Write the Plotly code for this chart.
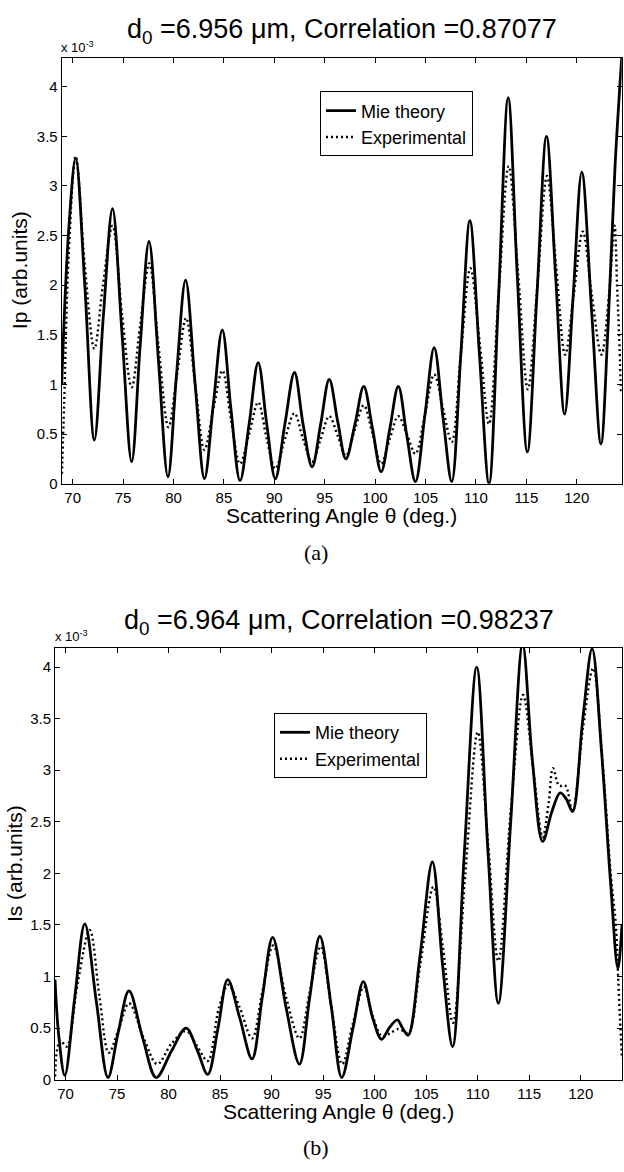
import plotly.graph_objects as go

W, H = 624, 1172


def px(x):
    return x / W


def py(y):
    return 1 - y / H


# ---------------- data (values in units of 1e-3) ----------------
# Panel (a): Ip
theta_a_mie = [68.91, 69.6, 70.3, 71.2, 72.15, 73.05, 73.95, 74.9, 75.85, 76.7, 77.57,
               78.5, 79.45, 80.3, 81.2, 82.15, 83.07, 83.95, 84.84, 85.7, 86.6, 87.5,
               88.4, 89.25, 90.1, 91.05, 92.0, 92.85, 93.75, 94.6, 95.45, 96.3, 97.1,
               98.0, 98.87, 99.75, 100.6, 101.45, 102.3, 103.15, 104.0, 104.95, 105.86,
               106.75, 107.6, 108.5, 109.4, 110.35, 111.3, 112.25, 113.2, 114.1, 115.1,
               116.05, 117.0, 117.9, 118.8, 119.65, 120.5, 121.5, 122.4, 123.1, 123.8,
               124.46]
ip_mie = [1.0, 2.55, 3.28, 2.0, 0.44, 1.7, 2.77, 1.5, 0.22, 1.4, 2.44,
          1.25, 0.07, 1.1, 2.05, 1.0, 0.05, 0.8, 1.55, 0.75, 0.03, 0.6,
          1.22, 0.6, 0.05, 0.6, 1.12, 0.6, 0.17, 0.6, 1.05, 0.62, 0.25,
          0.6, 0.98, 0.55, 0.12, 0.55, 0.98, 0.48, 0.02, 0.7, 1.37,
          0.65, 0.02, 1.3, 2.65, 1.3, 0.0, 1.9, 3.89, 2.1, 0.32,
          1.9, 3.5, 2.1, 0.7, 1.9, 3.14, 1.7, 0.4, 1.57, 3.2,
          4.29]

theta_a_exp = [68.93, 69.15, 69.6, 70.3, 71.2, 72.15, 73.0, 73.95, 74.9, 75.85, 76.7,
               77.6, 78.5, 79.5, 80.35, 81.25, 82.15, 83.07, 83.95, 84.85, 85.7, 86.6,
               87.5, 88.4, 89.25, 90.1, 91.05, 92.0, 92.85, 93.75, 94.6, 95.45, 96.3,
               97.1, 98.0, 98.87, 99.75, 100.6, 101.45, 102.3, 103.15, 104.0, 104.95,
               105.86, 106.75, 107.6, 108.5, 109.45, 110.4, 111.3, 112.25, 113.25,
               114.2, 115.15, 116.1, 117.05, 117.95, 118.85, 119.7, 120.6, 121.5,
               122.45, 123.2, 123.75, 124.0, 124.2, 124.4]
ip_exp = [0.1, 0.8, 2.3, 3.3, 2.2, 1.36, 2.0, 2.6, 1.7, 0.97, 1.6,
          2.22, 1.4, 0.57, 1.1, 1.67, 1.0, 0.34, 0.75, 1.14, 0.65, 0.2,
          0.5, 0.82, 0.45, 0.15, 0.45, 0.71, 0.45, 0.22, 0.45, 0.68, 0.48,
          0.28, 0.55, 0.79, 0.5, 0.2, 0.45, 0.68, 0.5, 0.3, 0.7,
          1.1, 0.75, 0.42, 1.3, 2.17, 1.4, 0.6, 1.9, 3.2,
          2.1, 0.95, 2.0, 3.1, 2.2, 1.3, 1.9, 2.54, 1.9,
          1.3, 1.9, 2.6, 2.0, 1.5, 0.9]

# Panel (b): Is
theta_b_mie = [68.98, 69.35, 69.93, 70.9, 71.87, 73.0, 74.12, 75.1, 76.16, 77.5, 78.8,
               80.3, 81.7, 82.8, 83.8, 84.8, 85.74, 86.9, 88.1, 89.1, 90.1, 91.4,
               92.7, 93.7, 94.68, 95.8, 96.8, 97.9, 98.9, 99.8, 100.67, 101.4, 102.2,
               102.7, 103.25, 104.4, 105.6, 106.6, 107.56, 108.7, 109.9, 111.0, 112.0,
               113.2, 114.36, 115.3, 116.3, 117.2, 118.0, 118.6, 119.2, 120.2, 121.1,
               122.0, 122.9, 123.6, 124.0]
is_mie = [0.97, 0.42, 0.04, 0.8, 1.51, 0.75, 0.02, 0.45, 0.86, 0.4, 0.02,
          0.28, 0.5, 0.28, 0.05, 0.5, 0.97, 0.6, 0.2, 0.8, 1.38, 0.7,
          0.15, 0.8, 1.39, 0.7, 0.02, 0.5, 0.95, 0.6, 0.39, 0.5, 0.58,
          0.5, 0.43, 1.2, 2.11, 1.1, 0.32, 2.2, 4.0, 2.2, 0.74,
          2.5, 4.22, 3.1, 2.31, 2.6, 2.78, 2.72, 2.6, 3.5, 4.18,
          3.2, 1.9, 1.08, 1.5]

theta_b_exp = [68.99, 69.2, 69.5, 70.1, 71.2, 72.35, 73.3, 74.2, 75.2, 76.16, 77.6,
               78.9, 80.3, 81.7, 82.8, 83.8, 84.9, 85.8, 86.9, 88.1, 89.1, 90.15,
               91.4, 92.7, 93.7, 94.75, 95.8, 96.85, 97.9, 98.95, 99.8, 100.7, 101.5,
               102.3, 102.8, 103.3, 104.4, 105.7, 106.6, 107.6, 108.8, 110.0, 111.0,
               112.0, 113.2, 114.4, 115.4, 116.3, 116.9, 117.3, 117.9, 118.5, 119.2,
               120.2, 121.2, 122.1, 122.9, 123.4, 123.6, 123.8, 124.0]
is_exp = [0.03, 0.3, 0.38, 0.32, 0.95, 1.45, 0.8, 0.26, 0.5, 0.74, 0.4,
          0.15, 0.35, 0.47, 0.32, 0.18, 0.7, 0.92, 0.7, 0.4, 0.85, 1.3,
          0.8, 0.4, 0.85, 1.29, 0.7, 0.15, 0.55, 0.9, 0.62, 0.42, 0.45,
          0.49, 0.47, 0.45, 1.1, 1.87, 1.3, 0.55, 2.0, 3.37, 2.3,
          1.15, 2.6, 3.73, 3.0, 2.35, 2.7, 3.02, 2.85, 2.85, 2.6,
          3.4, 3.99, 3.1, 2.0, 1.5, 1.05, 0.6, 0.2]

x_ticks = [70, 75, 80, 85, 90, 95, 100, 105, 110, 115, 120]
x_tick_labels = [str(v) for v in x_ticks]
y_ticks = [0, 0.5, 1, 1.5, 2, 2.5, 3, 3.5, 4]
y_tick_labels = ["0", "0.5", "1", "1.5", "2", "2.5", "3", "3.5", "4"]

title_a = "d<sub>0</sub> =6.956 \u03bcm, Correlation =0.87077"
title_b = "d<sub>0</sub> =6.964 \u03bcm, Correlation =0.98237"
xlabel = "Scattering Angle \u03b8 (deg.)"
ylabel_a = "Ip (arb.units)"
ylabel_b = "Is (arb.units)"
scale_label = "x 10<sup>-3</sup>"
series_names = ["Mie theory", "Experimental"]

# ---------------- figure ----------------
FONT = "Liberation Sans, Arial, sans-serif"
SERIF = "Liberation Serif, Times New Roman, serif"

fig = go.Figure()

solid = dict(color="black", width=2.8, shape="spline", smoothing=1.0)
dotted = dict(color="black", width=2.4, shape="spline", smoothing=1.0, dash="2px,3px")

fig.add_trace(go.Scatter(x=theta_a_exp, y=ip_exp, mode="lines", line=dotted,
                         name=series_names[1], xaxis="x", yaxis="y", legend="legend",
                         legendrank=2))
fig.add_trace(go.Scatter(x=theta_a_mie, y=ip_mie, mode="lines", line=solid,
                         name=series_names[0], xaxis="x", yaxis="y", legend="legend",
                         legendrank=1))
fig.add_trace(go.Scatter(x=theta_b_exp, y=is_exp, mode="lines", line=dotted,
                         name=series_names[1], xaxis="x2", yaxis="y2", legend="legend2",
                         legendrank=2))
fig.add_trace(go.Scatter(x=theta_b_mie, y=is_mie, mode="lines", line=solid,
                         name=series_names[0], xaxis="x2", yaxis="y2", legend="legend2",
                         legendrank=1))

axis_common = dict(ticks="inside", ticklen=5, tickwidth=1, tickcolor="black",
                   showline=True, linecolor="black", linewidth=1, mirror="ticks",
                   showgrid=False, zeroline=False,
                   tickfont=dict(family=FONT, size=15, color="black"))

fig.update_layout(
    width=W, height=H,
    margin=dict(l=0, r=0, t=0, b=0),
    paper_bgcolor="white", plot_bgcolor="white",
    font=dict(family=FONT, color="black"),
    xaxis=dict(domain=[px(61.7), px(621.7)], range=[68.91, 124.46], anchor="y",
               tickvals=x_ticks, ticktext=x_tick_labels, **axis_common),
    yaxis=dict(domain=[py(487), py(58.3)], range=[0, 4.29], anchor="x",
               tickvals=y_ticks, ticktext=y_tick_labels, **axis_common),
    xaxis2=dict(domain=[px(55), px(622)], range=[68.98, 124.0], anchor="y2",
                tickvals=x_ticks, ticktext=x_tick_labels, **axis_common),
    yaxis2=dict(domain=[py(1087), py(652)], range=[0, 4.19], anchor="x2",
                tickvals=y_ticks, ticktext=y_tick_labels, **axis_common),
    legend=dict(x=px(473), y=py(92), xanchor="right", yanchor="top",
                bordercolor="black", borderwidth=1, bgcolor="white",
                font=dict(family=FONT, size=18, color="black"), itemwidth=30,
                traceorder="normal"),
    legend2=dict(x=px(427), y=py(718), xanchor="right", yanchor="top",
                 bordercolor="black", borderwidth=1, bgcolor="white",
                 font=dict(family=FONT, size=18, color="black"), itemwidth=30,
                 traceorder="normal"),
    showlegend=True,
)

ann = []


def add_text(text, x, y, size, xanchor="center", angle=0, family=FONT):
    ann.append(dict(text=text, x=px(x), y=py(y), xref="paper", yref="paper",
                    xanchor=xanchor, yanchor="middle", showarrow=False,
                    textangle=angle, font=dict(family=family, size=size, color="black")))


add_text(title_a, 341.7, 31, 27)
add_text(scale_label, 59, 47, 13, xanchor="left")
add_text(xlabel, 341.7, 519, 21)
add_text("(a)", 316, 556, 22, family=SERIF)
add_text(ylabel_a, 19, 272, 21, angle=-90)

add_text(title_b, 338.5, 626, 27)
add_text(scale_label, 53, 640, 13, xanchor="left")
add_text(xlabel, 338.5, 1119, 21)
add_text("(b)", 316, 1155, 22, family=SERIF)
add_text(ylabel_b, 14, 870, 21, angle=-90)

fig.update_layout(annotations=ann)

fig.write_html(
    "out.html",
    config={"displayModeBar": False, "staticPlot": True},
    post_script="document.body.style.margin='0';document.body.style.padding='0';"
                "document.documentElement.style.overflow='hidden';",
)
